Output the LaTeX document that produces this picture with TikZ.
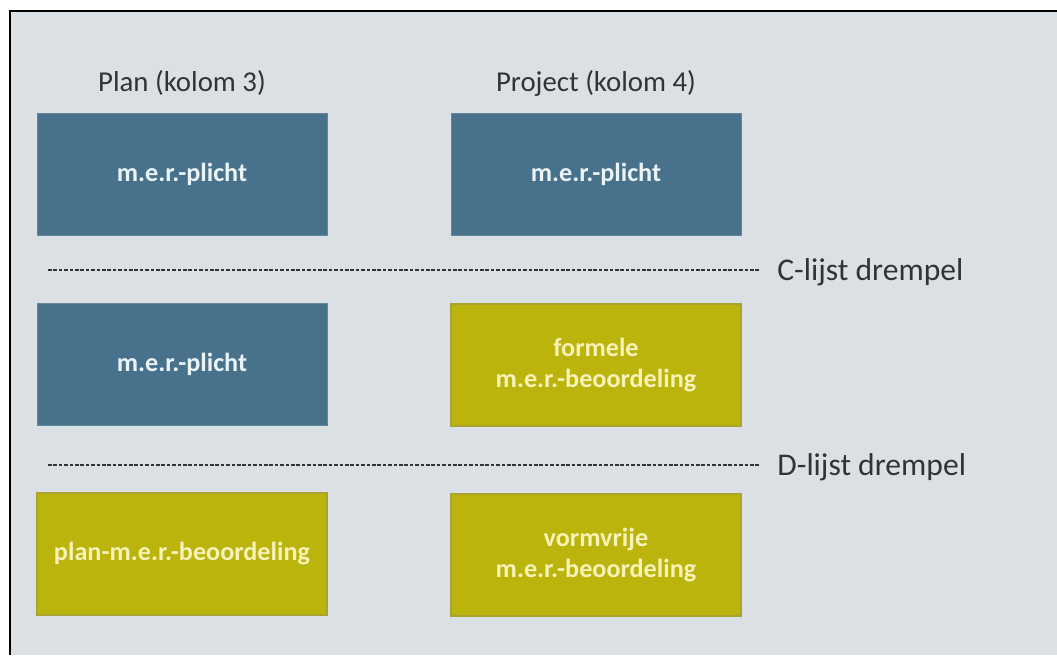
\documentclass[tikz,border=0pt]{standalone}
\usepackage{fontspec}
\setmainfont{Carlito}
\usepackage{tikz}
\usetikzlibrary{positioning}

\definecolor{achtergrond}{HTML}{DAE0E3}
\definecolor{plichtblauw}{HTML}{48728C}
\definecolor{beoordelingolijf}{HTML}{BBB40C}
\definecolor{tekstblauw}{HTML}{EAF4F7}
\definecolor{tekstgeel}{HTML}{F6F2B8}

\begin{document}
\begin{tikzpicture}[x=0.5pt,y=-0.5pt,
    vak/.style={minimum width=145pt,minimum height=61pt,inner sep=0pt,align=center,
      font=\fontsize{13.1}{15.5}\selectfont\bfseries},
    plicht/.style={vak,fill=plichtblauw,draw=plichtblauw!85!white,line width=0.5pt,text=tekstblauw},
    beoordeling/.style={vak,fill=beoordelingolijf,draw=beoordelingolijf!70!gray,line width=0.6pt,text=tekstgeel},
    kop/.style={font=\fontsize{14.4}{17}\selectfont,text=black!80,inner sep=0pt},
    drempel/.style={font=\fontsize{15.8}{18}\selectfont,text=black!80,anchor=west,inner ysep=0pt,inner xsep=8.5pt},
    grens/.style={dashed,dash pattern=on 1.8pt off 0.9pt,line width=0.55pt,black!80}]
  \useasboundingbox (0,0) rectangle (1057,655);
  \fill[white] (0,0) rectangle (1057,655);
  \fill[achtergrond] (10,11) rectangle (1057,655);
  \draw[line width=1pt] (10,655) -- (10,11) -- (1057,11);

  % kolomkoppen
  \node[kop] (plan) at (182,83) {Plan (kolom 3)};
  \node[kop] (project) at (596,83) {Project (kolom 4)};

  % bovenste rij
  \node[plicht] (plan1) at (182,174) {\raisebox{-1.2pt}{m.e.r.-plicht}};
  \node[plicht] (project1) at (596,174) {\raisebox{-1.2pt}{m.e.r.-plicht}};

  % drempels
  \node[drempel] (clijst) at (760,272) {C-lijst drempel};
  \coordinate (cbegin) at (48,270);
  \draw[grens] (cbegin) -- (cbegin -| clijst.west);
  \node[drempel] (dlijst) at (760,467) {D-lijst drempel};
  \coordinate (dbegin) at (48,465);
  \draw[grens] (dbegin) -- (dbegin -| dlijst.west);

  % middelste rij
  \node[plicht] (plan2) at (182,364) {\raisebox{-1.2pt}{m.e.r.-plicht}};
  \node[beoordeling] (project2) at (596,365) {formele\\m.e.r.-beoordeling};

  % onderste rij
  \node[beoordeling] (plan3) at (182,554) {\raisebox{-1.2pt}{plan-m.e.r.-beoordeling}};
  \node[beoordeling] (project3) at (596,555) {vormvrije\\m.e.r.-beoordeling};
\end{tikzpicture}
\end{document}
